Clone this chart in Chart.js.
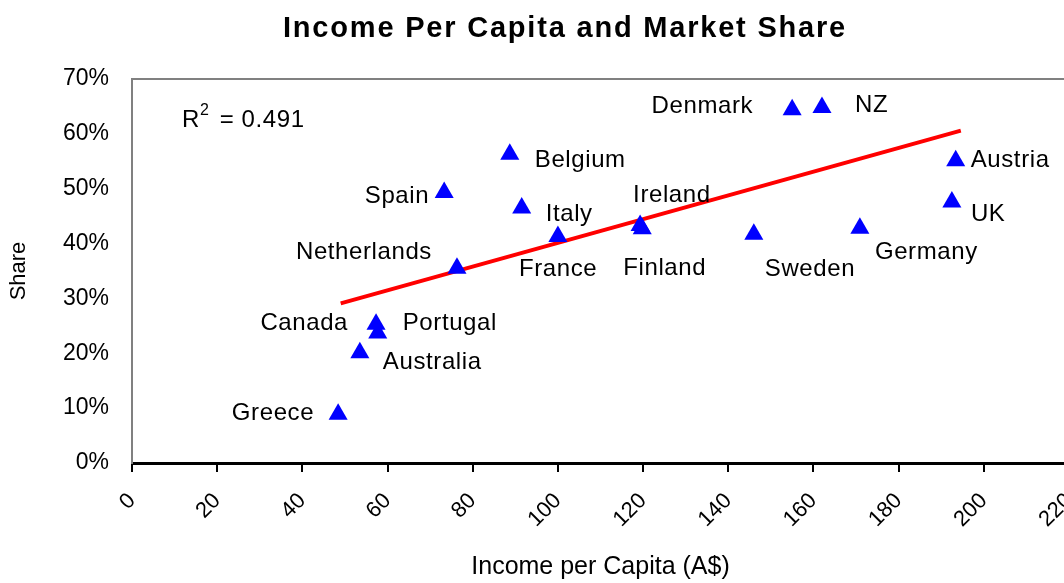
<!DOCTYPE html>
<html>
<head>
<meta charset="utf-8">
<title>Income Per Capita and Market Share</title>
<script src="https://cdn.jsdelivr.net/npm/chart.js@4/dist/chart.umd.min.js"></script>
<style>
  html, body { margin: 0; padding: 0; background: #fff; overflow: hidden; }
  canvas { display: block; }
</style>
</head>
<body>
<canvas id="chart" width="1069" height="583"></canvas>
<script>
// data
const countries = ['Greece', 'Australia', 'Canada', 'Portugal', 'Spain', 'Netherlands', 'Belgium', 'Italy', 'France',
  'Ireland', 'Finland', 'Sweden', 'Denmark', 'NZ', 'Germany', 'UK', 'Austria'];
const income = [48.4, 53.5, 57.3, 57.7, 73.3, 76.3, 88.7, 91.5, 100.0, 119.3, 119.8, 146.0, 155.0, 162.0, 170.9, 192.5, 193.4];
const share = [8.9, 20.1, 25.3, 23.7, 49.3, 35.5, 56.3, 46.5, 41.3, 43.3, 42.7, 41.7, 64.4, 64.8, 42.8, 47.6, 55.1];
const trendIncome = [49.0, 194.6];
const trendShare = [29.1, 60.6];
const xTicks = [0, 20, 40, 60, 80, 100, 120, 140, 160, 180, 200, 220];
const yTicks = [0, 10, 20, 30, 40, 50, 60, 70];
const rSquared = '0.491';

// where each country name sits next to its marker: [align, dx, dy]
const labelPlace = {
  Greece: ['right', -24, -1], Australia: ['left', 23, 10], Canada: ['right', -28, -1], Portugal: ['left', 25, -10],
  Spain: ['right', -15, 4], Netherlands: ['right', -25, -16], Belgium: ['left', 25, 6], Italy: ['left', 24, 6],
  France: ['left', -39, 33], Ireland: ['left', -7, -30], Finland: ['left', -19, 40], Sweden: ['left', 11, 35],
  Denmark: ['right', -39, -3], NZ: ['left', 33, -2], Germany: ['left', 15, 24], UK: ['left', 19, 12], Austria: ['left', 15, 0]
};

const labelFont = '24px "Liberation Sans", Arial, sans-serif';

const annotations = {
  id: 'annotations',
  afterDatasetsDraw(chart) {
    const ctx = chart.ctx;
    const meta = chart.getDatasetMeta(0);
    ctx.save();
    ctx.fillStyle = '#000';
    ctx.font = labelFont;
    ctx.letterSpacing = '0.6px';
    ctx.textBaseline = 'middle';
    meta.data.forEach((pt, i) => {
      const p = labelPlace[countries[i]];
      ctx.textAlign = p[0];
      ctx.fillText(countries[i], pt.x + p[1], pt.y + p[2]);
    });

    // R squared note
    const a = chart.chartArea;
    let x = a.left + 50, y = a.top + 41;
    ctx.textAlign = 'left';
    ctx.fillText('R', x, y);
    x += ctx.measureText('R').width;
    ctx.font = '16px "Liberation Sans", Arial, sans-serif';
    ctx.fillText('2', x, y - 9);
    x += ctx.measureText('2').width + 3;
    ctx.font = labelFont;
    ctx.fillText(' = ' + rSquared, x, y);
    ctx.restore();
  },
  afterDraw(chart) {
    const ctx = chart.ctx;
    const a = chart.chartArea;
    ctx.save();
    // top frame line
    ctx.strokeStyle = '#808080';
    ctx.lineWidth = 2;
    ctx.beginPath();
    ctx.moveTo(a.left - 1, a.top);
    ctx.lineTo(a.right + 10, a.top);
    ctx.stroke();
    // chart title, widely spaced
    ctx.fillStyle = '#000';
    ctx.font = 'bold 29px "Liberation Sans", Arial, sans-serif';
    ctx.letterSpacing = '1.8px';
    ctx.textAlign = 'center';
    ctx.textBaseline = 'middle';
    ctx.fillText('Income Per Capita and Market Share', 565, 29);
    ctx.restore();
  }
};

const ctx = document.getElementById('chart');
new Chart(ctx, {
  type: 'scatter',
  data: {
    datasets: [{
      label: 'Countries',
      data: income.map((v, i) => ({ x: v, y: share[i] })),
      pointStyle: 'triangle',
      pointRadius: 11,
      backgroundColor: '#0000ff',
      borderColor: '#0000ff',
      borderWidth: 0
    }, {
      label: 'Trend',
      data: trendIncome.map((v, i) => ({ x: v, y: trendShare[i] })),
      showLine: true,
      pointRadius: 0,
      borderColor: '#ff0000',
      borderWidth: 4
    }]
  },
  options: {
    responsive: false,
    animation: false,
    layout: { autoPadding: false, padding: { top: 79, right: 0, bottom: 0, left: 0 } },
    plugins: {
      legend: { display: false },
      tooltip: { enabled: false },
      title: { display: false }
    },
    scales: {
      x: {
        type: 'linear',
        min: 0,
        max: 220,
        afterBuildTicks: (axis) => { axis.ticks = xTicks.map(v => ({ value: v })); },
        afterFit: (s) => { s.height = 120; s.paddingLeft = 0; s.paddingRight = 0; },
        ticks: {
          autoSkip: false,
          minRotation: 45,
          maxRotation: 45,
          padding: 16,
          color: '#000',
          font: { family: '"Liberation Sans", Arial, sans-serif', size: 22 }
        },
        grid: { drawOnChartArea: false, drawTicks: true, tickLength: 9, color: '#000', lineWidth: 2 },
        border: { color: '#000', width: 3 },
        title: {
          display: true,
          text: 'Income per Capita (A$)',
          color: '#000',
          font: { family: '"Liberation Sans", Arial, sans-serif', size: 25 },
          padding: { top: 4, bottom: 1 }
        }
      },
      y: {
        min: 0,
        max: 70,
        afterBuildTicks: (axis) => { axis.ticks = yTicks.map(v => ({ value: v })); },
        afterFit: (s) => { s.width = 132; s.paddingTop = 0; s.paddingBottom = 0; },
        ticks: {
          padding: 15,
          color: '#000',
          font: { family: '"Liberation Sans", Arial, sans-serif', size: 23 },
          callback: (v) => v + '%'
        },
        grid: { display: false },
        border: { color: '#808080', width: 2 },
        title: {
          display: true,
          text: 'Share',
          color: '#000',
          font: { family: '"Liberation Sans", Arial, sans-serif', size: 22 },
          padding: { top: 6, bottom: 0 }
        }
      }
    }
  },
  plugins: [annotations]
});
</script>
</body>
</html>
